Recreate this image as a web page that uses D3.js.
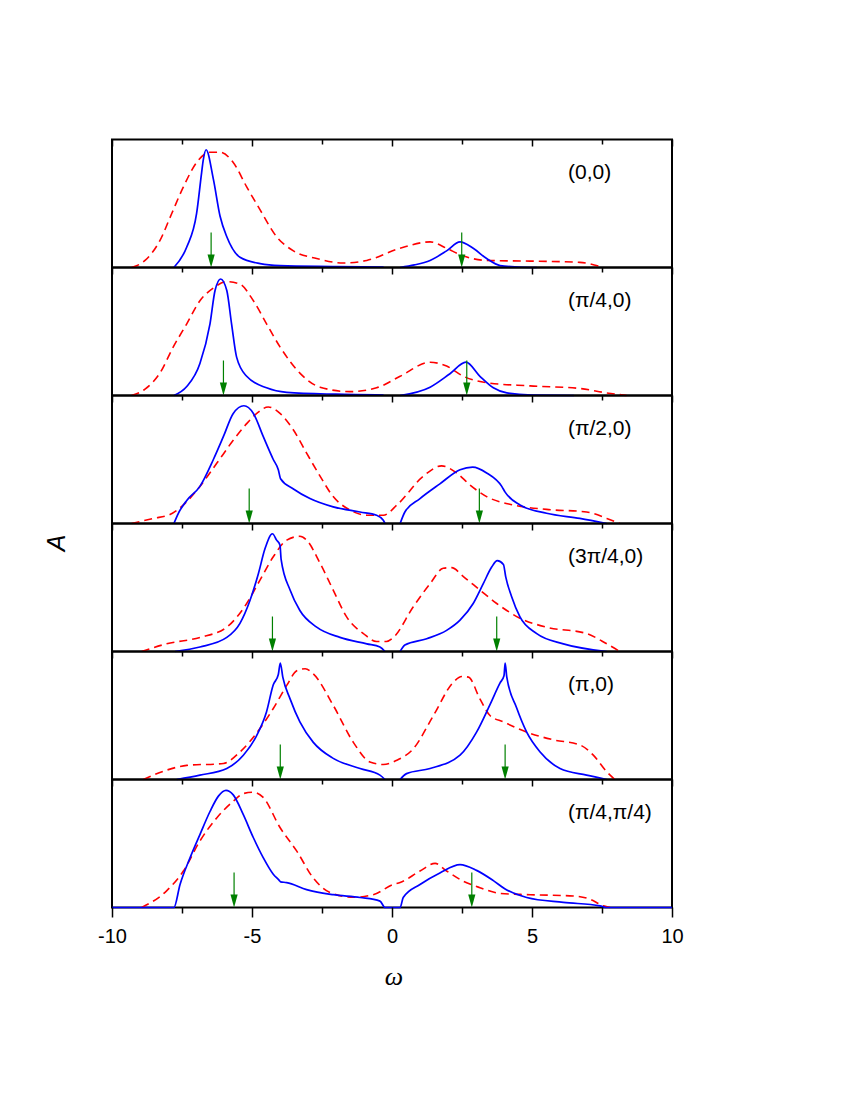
<!DOCTYPE html>
<html>
<head>
<meta charset="utf-8">
<script src="https://cdn.jsdelivr.net/npm/d3@7"></script>
<style>
  body { margin: 0; background: #fff; }
  svg { display: block; }
</style>
</head>
<body>
<svg id="chart" width="850" height="1100"></svg>
<script>
// --- data: A(omega) per k point, normalised to panel height ---
const panelLabels = ["(0,0)", "(π/4,0)", "(π/2,0)", "(3π/4,0)", "(π,0)", "(π/4,π/4)"];
const majorTicks = [-10, -5, 0, 5, 10];
const minorTicks = [-7.5, -2.5, 2.5, 7.5];

// green arrows (peak positions) for each panel
const arrowPos = [
  [-6.46, 2.49],
  [-6.02, 2.67],
  [-5.10, 3.12],
  [-4.27, 3.74],
  [-3.99, 4.04],
  [-5.64, 2.85]
];

// solid blue curves, null = gap around omega = 0
const blue0 = [[-7.79,0],[-7.33,0.16],[-6.98,0.42],[-6.8,0.74],[-6.74,0.84],[-6.64,0.92],[-6.38,0.69],[-6.14,0.40],[-5.9,0.24],[-5.43,0.08],[-4.71,0.03],[-4,0.015],[-2,0.008],[-0.3,0.003],null,[0.29,0],[0.8,0.02],[1.36,0.055],[1.95,0.13],[2.43,0.2],[2.9,0.15],[3.38,0.07],[3.86,0.015],[4.5,0.004],[5.17,0]];
const blue1 = [[-7.79,0],[-7.33,0.07],[-6.86,0.25],[-6.5,0.56],[-6.32,0.82],[-6.12,0.91],[-5.9,0.82],[-5.73,0.56],[-5.55,0.30],[-5.19,0.15],[-4.48,0.06],[-3.76,0.025],[-2,0.01],[-0.3,0.004],null,[0.29,0],[1.36,0.065],[2.07,0.17],[2.64,0.26],[3.14,0.15],[3.62,0.06],[4.1,0.02],[5,0.003],[6.5,0]];
const blue2 = [[-7.79,0],[-7.63,0.08],[-7.33,0.18],[-6.86,0.29],[-6.38,0.5],[-6.02,0.68],[-5.67,0.86],[-5.29,0.92],[-4.95,0.86],[-4.6,0.68],[-4.24,0.5],[-4.06,0.42],[-3.98,0.35],[-3.52,0.27],[-2.93,0.195],[-2.1,0.13],[-1.14,0.09],[-0.55,0.065],[-0.31,0.025],[-0.25,0],null,[0.29,0],[0.46,0.09],[1.0,0.195],[1.71,0.31],[2.43,0.42],[2.88,0.44],[3.38,0.395],[3.92,0.29],[4.04,0.245],[4.57,0.145],[5.52,0.08],[6.71,0.04],[7.67,0]];
const blue3 = [[-7.75,0],[-6.86,0.035],[-5.9,0.11],[-5.43,0.22],[-5.07,0.40],[-4.77,0.61],[-4.54,0.80],[-4.27,0.92],[-4.12,0.87],[-4,0.83],[-3.96,0.72],[-3.64,0.48],[-3.29,0.32],[-2.69,0.19],[-1.86,0.11],[-0.9,0.06],[-0.43,0.035],[-0.25,0],null,[0.29,0],[0.46,0.05],[1.24,0.10],[1.95,0.165],[2.43,0.245],[2.9,0.375],[3.26,0.53],[3.56,0.66],[3.76,0.71],[3.98,0.68],[4.06,0.585],[4.27,0.43],[4.57,0.27],[5.17,0.14],[6.12,0.06],[7.67,0]];
const blue4 = [[-7.69,0],[-6.86,0.034],[-5.9,0.086],[-5.31,0.19],[-4.83,0.345],[-4.48,0.53],[-4.24,0.74],[-4.06,0.82],[-3.99,0.91],[-3.9,0.80],[-3.64,0.63],[-3.29,0.45],[-2.81,0.29],[-2.1,0.165],[-1.14,0.086],[-0.43,0.034],[-0.25,0],null,[0.29,0],[0.52,0.046],[1.36,0.086],[2.43,0.19],[3.02,0.37],[3.5,0.585],[3.86,0.755],[4.0,0.81],[4.04,0.91],[4.1,0.80],[4.45,0.56],[4.81,0.37],[5.29,0.215],[6.0,0.086],[6.95,0.034],[7.67,0]];
const blue5 = [[-10,0],[-7.79,0],[-7.57,0.18],[-7.21,0.39],[-6.86,0.57],[-6.5,0.75],[-6.2,0.87],[-5.93,0.915],[-5.67,0.88],[-5.31,0.725],[-4.95,0.545],[-4.6,0.39],[-4.24,0.26],[-4.02,0.21],[-3.98,0.2],[-3.76,0.195],[-3.05,0.14],[-2.1,0.10],[-1.14,0.078],[-0.43,0.05],[-0.25,0],[0.29,0],[0.4,0.078],[1.0,0.18],[1.71,0.27],[2.43,0.335],[3.02,0.29],[3.62,0.21],[4.04,0.145],[4.81,0.078],[6.12,0.04],[7.43,0.013],[7.67,0],[10,0]];

// dashed red curves
const red0 = [[-9.3,0],[-8.82,0.055],[-8.29,0.21],[-7.87,0.42],[-7.45,0.63],[-6.98,0.82],[-6.5,0.9],[-6.14,0.9],[-5.67,0.82],[-5.19,0.63],[-4.71,0.45],[-4.12,0.24],[-3.52,0.13],[-2.69,0.07],[-1.74,0.035],[-0.9,0.055],[0.29,0.15],[1.36,0.2],[1.95,0.15],[2.43,0.10],[3.38,0.055],[4.93,0.05],[6.71,0.04],[7.55,0]];
const red1 = [[-9.3,0],[-8.82,0.05],[-8.29,0.175],[-7.81,0.38],[-7.33,0.56],[-6.86,0.74],[-6.38,0.84],[-5.9,0.89],[-5.43,0.87],[-4.95,0.74],[-4.48,0.56],[-4,0.38],[-3.29,0.175],[-2.57,0.065],[-1.5,0.03],[-0.55,0.06],[0.29,0.15],[1.36,0.26],[1.95,0.23],[2.55,0.15],[3.38,0.1],[4.93,0.075],[6.71,0.055],[7.67,0.02],[8.38,0]];
const red2 = [[-9.3,0],[-8.52,0.04],[-7.93,0.07],[-7.45,0.145],[-6.86,0.29],[-6.26,0.47],[-5.67,0.65],[-5.19,0.78],[-4.83,0.86],[-4.42,0.91],[-4,0.86],[-3.52,0.73],[-3.05,0.55],[-2.57,0.37],[-2.1,0.21],[-1.5,0.105],[-0.9,0.065],[-0.31,0.065],[0.2,0.15],[1.12,0.37],[1.77,0.45],[2.31,0.395],[2.79,0.30],[3.38,0.21],[4.33,0.145],[5.52,0.11],[6.95,0.09],[7.67,0.04],[8.14,0]];
const red3 = [[-8.94,0],[-8.05,0.06],[-6.86,0.11],[-5.9,0.19],[-5.19,0.375],[-4.71,0.56],[-4.24,0.74],[-3.76,0.87],[-3.29,0.90],[-3.05,0.87],[-2.57,0.69],[-2.1,0.48],[-1.62,0.27],[-1.02,0.14],[-0.55,0.078],[-0.2,0.078],[0.05,0.11],[0.76,0.35],[1.36,0.53],[1.83,0.65],[2.13,0.655],[2.55,0.585],[3.14,0.48],[3.74,0.375],[4.57,0.26],[5.52,0.19],[6.95,0.14],[7.67,0.06],[8.14,0]];
const red4 = [[-8.88,0],[-8.05,0.073],[-7.33,0.11],[-6.02,0.125],[-5.43,0.215],[-4.71,0.40],[-4.24,0.555],[-3.76,0.735],[-3.4,0.85],[-3.1,0.865],[-2.81,0.825],[-2.1,0.58],[-1.38,0.29],[-0.79,0.137],[-0.31,0.117],[0.17,0.15],[0.76,0.24],[1.48,0.50],[2.19,0.76],[2.49,0.805],[2.73,0.80],[3.14,0.63],[3.5,0.50],[3.98,0.45],[4.81,0.37],[5.76,0.31],[6.71,0.27],[7.19,0.19],[7.67,0.06],[7.96,0]];
const red5 = [[-8.94,0],[-8.05,0.13],[-7.45,0.285],[-6.86,0.52],[-6.26,0.70],[-5.67,0.83],[-5.31,0.89],[-4.95,0.90],[-4.6,0.86],[-4,0.625],[-3.4,0.44],[-2.81,0.23],[-2.21,0.117],[-1.38,0.08],[-0.67,0.10],[0.05,0.18],[0.29,0.195],[1.0,0.285],[1.54,0.345],[1.95,0.285],[2.55,0.205],[3.14,0.155],[3.86,0.11],[4.93,0.10],[6.48,0.09],[7.07,0.065],[7.55,0.013],[7.79,0]];

const blueCurves = [blue0, blue1, blue2, blue3, blue4, blue5];
const redCurves = [red0, red1, red2, red3, red4, red5];

// --- layout ---
const left = 112, right = 672, top0 = 139.5, panelH = 128;
const arrowLen = 35, headLen = 13, headW = 3.6;

const x = d3.scaleLinear().domain([-10, 10]).range([left, right]);
const y = d3.scaleLinear().domain([0, 1]).range([panelH, 0]);

const svg = d3.select("#chart");

const line = d3.line()
  .defined(d => d !== null)
  .x(d => x(d[0]))
  .y(d => y(d[1]))
  .curve(d3.curveMonotoneX);

panelLabels.forEach((lab, i) => {
  const g = svg.append("g").attr("transform", `translate(0,${top0 + i * panelH})`);

  // inward ticks hanging from the top edge
  g.append("g")
    .call(d3.axisBottom(x).tickValues(majorTicks).tickSize(7).tickFormat(""))
    .call(a => a.select(".domain").remove())
    .selectAll("line").attr("stroke-width", 1.5);
  g.append("g")
    .call(d3.axisBottom(x).tickValues(minorTicks).tickSize(5).tickFormat(""))
    .call(a => a.select(".domain").remove())
    .selectAll("line").attr("stroke-width", 1.5);

  // frame
  g.append("rect")
    .attr("x", left).attr("y", 0)
    .attr("width", right - left).attr("height", panelH)
    .attr("fill", "none").attr("stroke", "#000").attr("stroke-width", 2);

  g.append("path")
    .datum(redCurves[i])
    .attr("d", line)
    .attr("fill", "none")
    .attr("stroke", "#ff0000")
    .attr("stroke-width", 1.6)
    .attr("stroke-dasharray", "8,5");

  g.append("path")
    .datum(blueCurves[i])
    .attr("d", line)
    .attr("fill", "none")
    .attr("stroke", "#0000ff")
    .attr("stroke-width", 1.7);

  // green arrows
  const ar = g.selectAll("g.arrow").data(arrowPos[i]).join("g").attr("class", "arrow");
  ar.append("line")
    .attr("x1", d => x(d)).attr("x2", d => x(d))
    .attr("y1", y(0) - arrowLen).attr("y2", y(0) - headLen + 1)
    .attr("stroke", "#008000").attr("stroke-width", 1.2);
  ar.append("path")
    .attr("d", d => `M${x(d) - headW},${y(0) - headLen}L${x(d) + headW},${y(0) - headLen}L${x(d)},${y(0)}Z`)
    .attr("fill", "#008000");

  g.append("text")
    .attr("x", 568).attr("y", 39)
    .attr("font-family", "Liberation Sans, Arial, sans-serif")
    .attr("font-size", 21)
    .text(lab);
});

// bottom axis with labels
const bottomY = top0 + panelH * panelLabels.length;
const ax = svg.append("g").attr("transform", `translate(0,${bottomY})`);
ax.append("g")
  .call(d3.axisBottom(x).tickValues(majorTicks).tickSize(10).tickPadding(11).tickFormat(d3.format("d")))
  .call(a => a.select(".domain").remove())
  .call(a => a.selectAll("line").attr("stroke-width", 1.5))
  .call(a => a.selectAll("text")
    .attr("font-family", "Liberation Sans, Arial, sans-serif")
    .attr("font-size", 20)
    .attr("fill", "#000")
    .text(d => d < 0 ? "-" + Math.abs(d) : d));
ax.append("g")
  .call(d3.axisBottom(x).tickValues(minorTicks).tickSize(6).tickFormat(""))
  .call(a => a.select(".domain").remove())
  .selectAll("line").attr("stroke-width", 1.5);

// axis titles
svg.append("text")
  .attr("transform", "translate(65,543) rotate(-90)")
  .attr("text-anchor", "middle")
  .attr("font-family", "Liberation Sans, Arial, sans-serif")
  .attr("font-style", "italic")
  .attr("font-size", 25)
  .text("A");

svg.append("text")
  .attr("x", 394).attr("y", 985)
  .attr("text-anchor", "middle")
  .attr("font-family", "Liberation Serif, Times New Roman, serif")
  .attr("font-style", "italic")
  .attr("font-size", 26)
  .text("ω");
</script>
</body>
</html>
